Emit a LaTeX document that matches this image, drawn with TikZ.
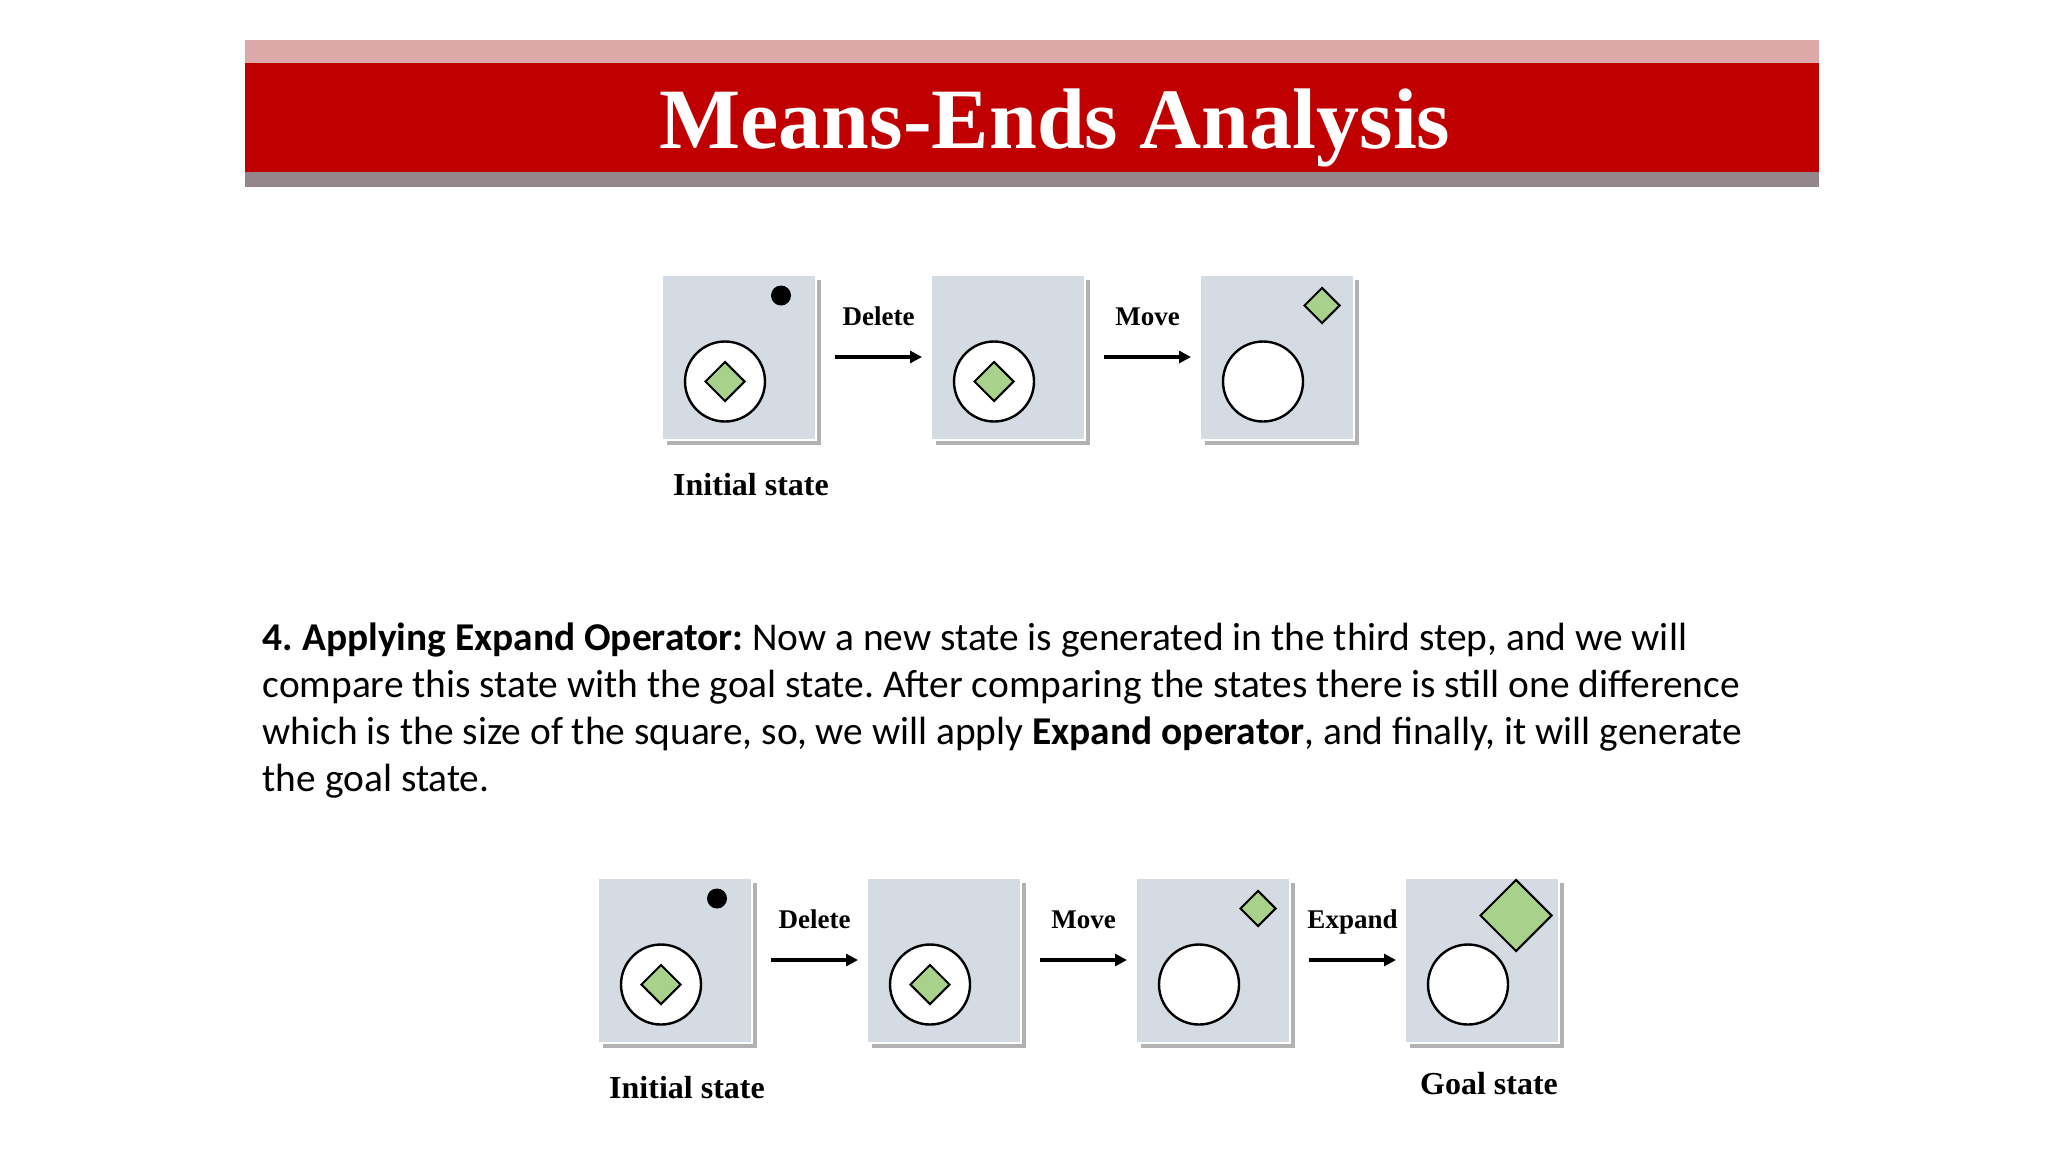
\documentclass[tikz,border=0pt]{standalone}
\usepackage{fontspec}
\setmainfont{Liberation Serif}
\newfontfamily\bodyfont{Carlito}
\usetikzlibrary{arrows.meta,shapes.geometric,shadows,calc}

\definecolor{bandpink}{RGB}{220,168,168}
\definecolor{bandred}{RGB}{192,0,0}
\definecolor{bandgray}{RGB}{146,134,138}
\definecolor{boxgray}{RGB}{213,219,227}
\definecolor{leafgreen}{RGB}{168,210,140}

\tikzset{every picture/.style={line width=0.75pt}}
\tikzset{
  statebox/.style={draw=white, line width=1pt, fill=boxgray, minimum width=77pt,
    minimum height=82.5pt, inner sep=0pt,
    drop shadow={shadow xshift=2.5pt, shadow yshift=-2.5pt, fill=black, opacity=0.3}},
  hole/.style={circle, draw=black, fill=white, line width=1.2pt, minimum size=40pt, inner sep=0pt},
  gem/.style={diamond, draw=black, fill=leafgreen, line width=1pt, minimum size=20pt, inner sep=0pt},
  biggem/.style={gem, minimum size=36pt},
  dot/.style={circle, fill=black, minimum size=10pt, inner sep=0pt},
  oparrow/.style={line width=2pt, -{Triangle[length=6pt,width=6pt]}},
  oplabel/.style={font=\bfseries\fontsize{13.5}{14}\selectfont, inner sep=0pt, text depth=0pt},
  statelabel/.style={font=\bfseries\fontsize{16}{17}\selectfont, inner sep=0pt, anchor=base}
}

\begin{document}
\frenchspacing
\begin{tikzpicture}[x=0.5pt,y=0.5pt,yscale=-1,xscale=1]
\useasboundingbox (0,0) rectangle (2048,1152);
\fill[white] (0,0) rectangle (2048,1152);

% Header band
\fill[bandpink] (245,40) rectangle (1819,63);
\fill[bandred] (245,63) rectangle (1819,172);
\fill[bandgray] (245,172) rectangle (1819,187);
% Text Node
\node[anchor=base, text=white, font=\bfseries\fontsize{43}{43}\selectfont] (title) at (1055,148) {Means-Ends Analysis};

% Top row
\node[statebox] (a1) at (739,357) {};
\node[statebox] (a2) at (1008,357) {};
\node[statebox] (a3) at (1277,357) {};
\node[hole] (a1h) at ($(a1.north west)+(64,108)$) {};
\node[gem] (a1g) at (a1h) {};
\node[dot] (a1d) at ($(a1.north west)+(120,22)$) {};
\node[hole] (a2h) at ($(a2.north west)+(64,108)$) {};
\node[gem] (a2g) at (a2h) {};
\node[hole] (a3h) at ($(a3.north west)+(64,108)$) {};
\node[gem, minimum size=18pt] (a3g) at ($(a3.north west)+(123,32)$) {};
\draw[oparrow] ([xshift=9pt]a1.east) -- ([xshift=-4pt]a2.west) node[oplabel, midway, above=15pt] (a12) {Delete};
\draw[oparrow] ([xshift=9pt]a2.east) -- ([xshift=-4pt]a3.west) node[oplabel, midway, above=15pt] (a23) {Move};
% Text Node
\node[statelabel] (ainit) at ($(a1.south)+(12,55)$) {Initial state};

% Paragraph
\node[anchor=north west, inner sep=0pt, align=left, font=\bodyfont\fontsize{19.7}{23.5}\selectfont] (para) at (262,622)
{\textbf{4. Applying Expand Operator:} Now a new state is generated in the third step, and we will\\
compare this state with the goal state. After comparing the states there is still one difference\\
which is the size of the square, so, we will apply \textbf{Expand operator}, and finally, it will generate\\
the goal state.};

% Bottom row
\node[statebox] (b1) at (675,960) {};
\node[statebox] (b2) at (944,960) {};
\node[statebox] (b3) at (1213,960) {};
\node[statebox] (b4) at (1482,960) {};
\node[hole] (b1h) at ($(b1.north west)+(64,108)$) {};
\node[gem] (b1g) at (b1h) {};
\node[dot] (b1d) at ($(b1.north west)+(120,22)$) {};
\node[hole] (b2h) at ($(b2.north west)+(64,108)$) {};
\node[gem] (b2g) at (b2h) {};
\node[hole] (b3h) at ($(b3.north west)+(64,108)$) {};
\node[gem, minimum size=18pt] (b3g) at ($(b3.north west)+(123,32)$) {};
\node[hole] (b4h) at ($(b4.north west)+(64,108)$) {};
\node[biggem] (b4g) at ($(b4.north west)+(112,39)$) {};
\draw[oparrow] ([xshift=9pt]b1.east) -- ([xshift=-4pt]b2.west) node[oplabel, midway, above=15pt] (b12) {Delete};
\draw[oparrow] ([xshift=9pt]b2.east) -- ([xshift=-4pt]b3.west) node[oplabel, midway, above=15pt] (b23) {Move};
\draw[oparrow] ([xshift=9pt]b3.east) -- ([xshift=-4pt]b4.west) node[oplabel, midway, above=15pt] (b34) {Expand};
% Text Node
\node[statelabel] (binit) at ($(b1.south)+(12,55)$) {Initial state};
\node[statelabel] (bgoal) at ($(b4.south)+(7,51)$) {Goal state};

\end{tikzpicture}
\end{document}
